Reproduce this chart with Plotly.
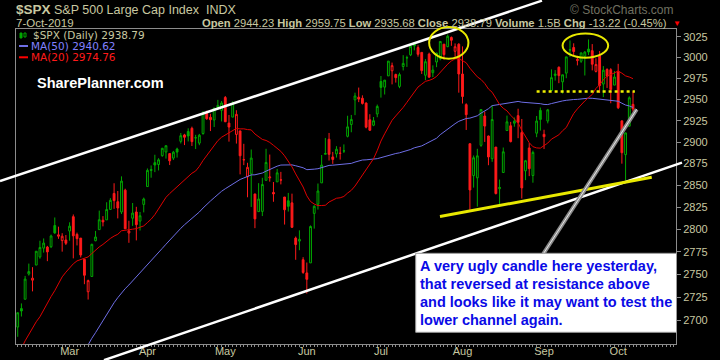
import math
import pandas as pd
import plotly.graph_objects as go

# ---------------- data ----------------
holidays = ["2019-02-18", "2019-04-19", "2019-05-27", "2019-07-04", "2019-09-02"]
dates = [d.strftime("%Y-%m-%d") for d in pd.bdate_range("2019-02-08", "2019-10-07")
         if d.strftime("%Y-%m-%d") not in holidays]

opens = [2692.36, 2712.40, 2722.61, 2750.30, 2743.50, 2760.24, 2769.28, 2779.05, 2780.24, 2780.67, 2804.35, 2792.36, 2787.50, 2788.11,
         2798.22, 2814.37, 2794.41, 2790.27, 2766.53, 2730.79, 2747.61, 2787.34, 2799.78, 2810.38, 2810.79, 2822.61, 2840.76, 2831.34, 2819.72, 2844.52, 2796.01, 2812.66, 2819.72, 2809.40, 2828.27,
         2848.63, 2868.24, 2876.09, 2873.99, 2884.16, 2888.46, 2886.58, 2881.37, 2891.92, 2900.86, 2908.32, 2912.26, 2916.04, 2904.81, 2898.78, 2909.99, 2934.00, 2928.99, 2925.81, 2940.58, 2937.14,
         2952.33, 2922.16, 2929.21, 2908.89, 2913.03, 2879.61, 2859.84, 2863.10, 2840.19, 2820.12, 2820.38, 2855.80, 2858.60, 2841.94, 2854.02, 2856.06, 2836.70, 2832.41, 2830.03, 2790.25, 2786.94, 2766.15,
         2751.53, 2762.64, 2818.09, 2828.51, 2852.87, 2885.83, 2903.27, 2882.73, 2886.24, 2886.82, 2889.75, 2906.71, 2920.55, 2949.60, 2952.71, 2951.42, 2945.78, 2926.07, 2919.66, 2932.94,
         2971.41, 2964.66, 2978.08, 2984.25, 2979.77, 2965.52, 2989.30, 2999.62, 3003.36, 3017.80, 3012.13, 3006.33, 2978.87, 3004.26, 2981.93, 2994.74, 2998.77, 3016.26, 3013.25, 3024.47, 3007.66, 3016.22,
         2980.32, 2943.90, 2898.07, 2861.18, 2858.65, 2896.21, 2930.51, 2907.07, 2880.72, 2894.15, 2846.20, 2864.74, 2913.48, 2919.01, 2922.04, 2930.94, 2911.07, 2866.70, 2893.14, 2861.28, 2910.37, 2937.09,
         2909.01, 2924.67, 2960.60, 2980.33, 2988.43, 2971.01, 2981.41, 3009.08, 3012.21, 2996.41, 2995.67, 3001.50, 3010.36, 3008.42, 2983.50, 3002.43, 2968.35, 2985.73, 2985.47, 2967.07,
         2983.69, 2924.78, 2885.38, 2918.56, 2944.23]
highs = [2708.07, 2718.05, 2748.19, 2761.85, 2757.90, 2775.66, 2787.33, 2789.88, 2781.58, 2794.20, 2813.49, 2803.12, 2795.76, 2793.73,
         2808.02, 2816.88, 2796.44, 2790.27, 2767.25, 2744.13, 2784.00, 2798.32, 2821.24, 2815.00, 2830.73, 2835.41, 2852.42, 2843.54, 2860.31, 2846.16, 2809.79, 2829.87, 2825.56, 2819.71, 2836.03,
         2869.40, 2872.90, 2885.25, 2881.28, 2893.24, 2895.95, 2886.88, 2889.71, 2893.42, 2910.54, 2909.60, 2916.06, 2918.00, 2908.40, 2909.51, 2936.31, 2936.83, 2933.10, 2939.88, 2949.52, 2948.22,
         2954.13, 2931.68, 2947.85, 2937.32, 2913.03, 2897.96, 2875.97, 2891.31, 2840.19, 2852.54, 2858.68, 2892.15, 2885.48, 2853.86, 2868.88, 2865.47, 2836.70, 2841.36, 2840.51, 2792.03, 2799.00, 2768.98,
         2763.07, 2804.49, 2827.28, 2852.10, 2884.97, 2904.77, 2910.61, 2888.57, 2895.24, 2894.45, 2897.27, 2930.79, 2931.74, 2958.06, 2964.15, 2954.92, 2946.52, 2932.59, 2929.30, 2943.98,
         2977.93, 2973.21, 2995.84, 2994.03, 2980.76, 2981.90, 3002.98, 3002.33, 3013.92, 3017.80, 3015.02, 3006.33, 2998.28, 3006.02, 2990.71, 3005.90, 3019.59, 3016.31, 3027.98, 3025.61, 3017.19, 3017.40,
         3013.59, 2945.50, 2898.07, 2884.40, 2892.17, 2938.72, 2935.75, 2907.58, 2943.31, 2894.15, 2856.67, 2893.63, 2931.00, 2923.63, 2928.73, 2939.08, 2927.01, 2879.27, 2898.79, 2890.03, 2930.50, 2940.43,
         2914.39, 2938.84, 2985.86, 2985.03, 2989.43, 2979.39, 3000.93, 3020.74, 3017.33, 3002.19, 3006.21, 3007.83, 3021.99, 3016.37, 2999.15, 3007.98, 2989.82, 2987.28, 2987.31, 2983.85,
         2992.53, 2924.78, 2911.13, 2953.74, 2959.75]
lows = [2681.83, 2703.79, 2722.61, 2748.63, 2731.23, 2760.24, 2767.29, 2774.06, 2764.55, 2779.11, 2794.99, 2789.47, 2775.13, 2782.51,
        2787.38, 2767.66, 2782.05, 2768.69, 2739.09, 2722.27, 2747.61, 2786.73, 2799.78, 2803.46, 2810.79, 2821.99, 2823.27, 2812.43, 2817.38, 2800.47, 2785.02, 2803.99, 2787.72, 2798.77, 2819.23,
        2848.63, 2858.75, 2865.17, 2867.14, 2882.99, 2880.78, 2873.33, 2879.13, 2881.99, 2898.37, 2896.48, 2900.71, 2895.45, 2891.90, 2896.35, 2908.53, 2926.05, 2912.84, 2917.56, 2939.35, 2924.11,
        2923.36, 2900.50, 2929.21, 2898.21, 2862.60, 2873.28, 2836.40, 2825.39, 2801.43, 2820.12, 2815.08, 2855.80, 2854.23, 2831.29, 2854.02, 2851.11, 2805.49, 2820.19, 2801.58, 2766.06, 2776.74, 2750.52,
        2728.81, 2762.64, 2800.92, 2822.45, 2852.87, 2885.51, 2878.53, 2874.68, 2881.99, 2879.62, 2887.30, 2905.44, 2911.43, 2931.50, 2946.87, 2944.05, 2916.01, 2912.99, 2918.57, 2929.05,
        2952.22, 2955.92, 2977.96, 2967.97, 2970.09, 2963.44, 2984.62, 2988.80, 3001.87, 3008.77, 3001.15, 2980.43, 2973.09, 2975.86, 2976.65, 2988.56, 2996.82, 2997.24, 3012.59, 3014.30, 3000.94, 2958.08,
        2945.23, 2914.11, 2822.12, 2847.42, 2825.71, 2894.47, 2900.15, 2873.14, 2877.05, 2839.64, 2825.51, 2864.74, 2913.48, 2899.60, 2917.91, 2904.51, 2834.97, 2856.00, 2860.59, 2853.05, 2905.67, 2913.32,
        2891.85, 2921.86, 2960.60, 2972.51, 2969.39, 2957.01, 2975.31, 3000.92, 3002.90, 2990.67, 2993.73, 2978.57, 3003.16, 2984.68, 2982.23, 2957.73, 2952.86, 2963.71, 2945.53, 2967.07,
        2938.70, 2874.93, 2855.94, 2918.56, 2935.68]
closes = [2707.88, 2709.80, 2744.73, 2753.03, 2745.73, 2775.60, 2779.76, 2784.70, 2774.88, 2792.67, 2796.11, 2793.90, 2792.38, 2784.49,
          2803.69, 2792.81, 2789.65, 2771.45, 2748.93, 2743.07, 2783.30, 2791.52, 2810.92, 2808.48, 2822.48, 2832.94, 2832.57, 2824.23, 2854.88, 2800.71, 2798.36, 2818.46, 2805.37, 2815.44, 2834.40,
          2867.19, 2867.24, 2873.40, 2879.39, 2892.74, 2895.77, 2878.20, 2888.21, 2888.32, 2907.41, 2905.58, 2907.06, 2900.45, 2905.03, 2907.97, 2933.68, 2927.25, 2926.17, 2939.88, 2943.03, 2945.83,
          2923.73, 2917.52, 2945.64, 2932.47, 2884.05, 2879.42, 2870.72, 2881.40, 2811.87, 2834.41, 2850.96, 2876.32, 2859.53, 2840.23, 2864.36, 2856.27, 2822.24, 2826.06, 2802.39, 2783.02, 2788.86, 2752.06,
          2744.45, 2803.27, 2826.15, 2843.49, 2873.34, 2886.73, 2885.72, 2879.84, 2891.64, 2886.98, 2889.67, 2917.75, 2926.46, 2954.18, 2950.46, 2945.35, 2917.38, 2913.78, 2924.92, 2941.76,
          2964.33, 2973.01, 2995.82, 2990.41, 2975.95, 2979.63, 2993.07, 2999.91, 3013.77, 3014.30, 3004.04, 2984.42, 2995.11, 2976.61, 2985.03, 3005.47, 3019.56, 3003.67, 3025.86, 3020.97, 3013.18, 2980.38,
          2953.56, 2932.05, 2844.74, 2881.77, 2883.98, 2938.09, 2918.65, 2882.70, 2926.32, 2840.60, 2847.60, 2888.68, 2923.65, 2900.51, 2924.43, 2922.95, 2847.11, 2878.38, 2869.16, 2887.94, 2924.58, 2926.46,
          2906.27, 2937.78, 2976.00, 2978.71, 2978.43, 2979.39, 3000.93, 3009.57, 3007.39, 2997.96, 3005.70, 3006.73, 3006.79, 2992.07, 2991.78, 2966.60, 2984.87, 2977.62, 2961.79, 2976.74,
          2940.25, 2887.61, 2910.63, 2952.01, 2938.79]
# closes before the first visible day (27-Nov-2018 .. 7-Feb-2019), used for the moving averages
prior_closes = [2682.17, 2743.79, 2737.80, 2760.17,
                2790.37, 2700.06, 2695.95, 2633.08, 2637.72, 2636.78, 2651.07, 2650.54, 2599.95, 2545.94, 2546.16, 2506.96, 2467.42, 2416.62, 2351.10, 2467.70, 2488.83, 2485.74, 2506.85,
                2510.03, 2447.89, 2531.94, 2549.69, 2574.41, 2584.96, 2596.64, 2596.26, 2582.61, 2610.30, 2616.10, 2635.96, 2670.71, 2632.90, 2638.70, 2642.33, 2664.76, 2643.85, 2640.00, 2681.05, 2704.10,
                2706.53, 2724.87, 2737.70, 2731.61, 2706.05]

month_ticks = ["2019-03-01", "2019-04-01", "2019-05-01", "2019-06-03", "2019-07-01", "2019-08-01", "2019-09-03", "2019-10-01"]
month_labels = ["Mar", "Apr", "May", "Jun", "Jul", "Aug", "Sep", "Oct"]
y_ticks = [2700, 2725, 2750, 2775, 2800, 2825, 2850, 2875, 2900, 2925, 2950, 2975, 3000, 3025]

header_vals = {"Open": "2944.23", "High": "2959.75", "Low": "2935.68", "Close": "2938.79",
               "Volume": "1.5B", "Chg": "-13.22 (-0.45%)"}

# ---------------- derived ----------------
n = len(dates)
idx = list(range(n))
allc = pd.Series(prior_closes + closes)
ma50 = allc.rolling(50).mean().iloc[len(prior_closes):].tolist()
ma20 = allc.rolling(20).mean().iloc[len(prior_closes):].tolist()
prev = [prior_closes[-1]] + closes[:-1]
up = [c >= p for c, p in zip(closes, prev)]

GREEN = "#00a800"
RED = "#ff1a1a"
BEIGE = "#c8c8a0"
GRID = "#8c8c8c"

XR = [-0.46, 177.6]
YR = [math.log10(2674.1), math.log10(3034.7)]


def dx(i):
    return (i - XR[0]) / (XR[1] - XR[0])


def dy(p):
    return (math.log10(p) - YR[0]) / (YR[1] - YR[0])


# page pixel -> paper (plot area 16..676 x 29..344)
def px(x):
    return (x - 16) / 660


def py(y):
    return (344 - y) / 315


fig = go.Figure()


def candles(mask, color):
    sel = [i for i in idx if mask[i]]
    fig.add_trace(go.Candlestick(
        x=[idx[i] for i in sel], open=[opens[i] for i in sel], high=[highs[i] for i in sel],
        low=[lows[i] for i in sel], close=[closes[i] for i in sel],
        increasing=dict(line=dict(color=color, width=1), fillcolor="black"),
        decreasing=dict(line=dict(color=color, width=1), fillcolor=color),
        whiskerwidth=0, hoverinfo="skip", showlegend=False))


candles(up, GREEN)
candles([not u for u in up], RED)

fig.add_trace(go.Scatter(x=idx, y=ma50, mode="lines", line=dict(color="#6e6ee6", width=1),
                         hoverinfo="skip", showlegend=False))
fig.add_trace(go.Scatter(x=idx, y=ma20, mode="lines", line=dict(color="#e00000", width=1),
                         hoverinfo="skip", showlegend=False))

pos = {d: i for i, d in enumerate(dates)}

shapes = []
# channel lines (white)
for (i0, p0, i1, p1) in [(-4.78, 2854.8, 141.45, 3069.4), (23.28, 2656.8, 179.22, 2876.2)]:
    shapes.append(dict(type="line", xref="paper", yref="paper", x0=dx(i0), y0=dy(p0), x1=dx(i1), y1=dy(p1),
                       line=dict(color="white", width=2.5), layer="above"))
# yellow support
shapes.append(dict(type="line", xref="paper", yref="paper", x0=dx(113.93), y0=dy(2814.5), x1=dx(171.05), y1=dy(2859.3),
                   line=dict(color="#e8e800", width=3), layer="above"))
# yellow dotted resistance
shapes.append(dict(type="line", xref="paper", yref="paper", x0=dx(140.0), y0=dy(2959.5), x1=dx(166.5), y1=dy(2959.5),
                   line=dict(color="#f0f000", width=2.5, dash="dot"), layer="above"))
# ellipses
for (i0, p0, i1, p1) in [(111.0, 2998.8, 121.6, 3037.1), (147.0, 3000.0, 159.3, 3029.1)]:
    shapes.append(dict(type="circle", xref="paper", yref="paper", x0=dx(i0), y0=dy(p0), x1=dx(i1), y1=dy(p1),
                       line=dict(color="#e8e800", width=2), layer="above"))
# gray pointer
shapes.append(dict(type="line", xref="paper", yref="paper", x0=dx(141.8), y0=dy(2772.7), x1=dx(167.0), y1=dy(2938.4),
                   line=dict(color="#8a8a8a", width=4), layer="above"))
shapes.append(dict(type="line", xref="paper", yref="paper", x0=dx(141.8), y0=dy(2772.7), x1=dx(167.0), y1=dy(2938.4),
                   line=dict(color="#e8e8e8", width=1), layer="above"))
# text box
shapes.append(dict(type="rect", xref="paper", yref="paper", x0=px(415.7), y0=py(332.3), x1=px(676.5), y1=py(253.3),
                   fillcolor="white", line=dict(color="#9a9a9a", width=1), layer="above"))
# legend icons
shapes.append(dict(type="line", xref="paper", yref="paper", x0=px(19), y0=py(46), x1=px(28), y1=py(46),
                   line=dict(color="#6e6ee6", width=2)))
shapes.append(dict(type="line", xref="paper", yref="paper", x0=px(19), y0=py(57.3), x1=px(28), y1=py(57.3),
                   line=dict(color="#ff0000", width=2)))
shapes.append(dict(type="rect", xref="paper", yref="paper", x0=px(20), y0=py(38), x1=px(22), y1=py(33),
                   line=dict(color=GREEN, width=1), fillcolor=GREEN))
shapes.append(dict(type="rect", xref="paper", yref="paper", x0=px(24), y0=py(37), x1=px(26), y1=py(33),
                   line=dict(color=GREEN, width=1), fillcolor="black"))

ann = []
HF = "Liberation Sans"


def text(x, y, s, size, color, anchor="left", family=HF, yanchor="middle"):
    ann.append(dict(xref="paper", yref="paper", x=px(x), y=py(y), text=s, showarrow=False,
                    xanchor=anchor, yanchor=yanchor, font=dict(family=family, size=size, color=color)))


text(14, 10, "<b>$SPX</b>", 13.5, BEIGE)
text(52, 9.5, "S&amp;P 500 Large Cap Index  INDX", 12.5, BEIGE)
text(14, 23, "7-Oct-2019", 11.5, BEIGE)
hdr = " ".join(f"<b>{k}</b> {v}" for k, v in header_vals.items())
text(669, 23, hdr, 11.2, BEIGE, anchor="right")
text(671, 23, "▼", 8, "#ff0000", anchor="left")
text(676, 9.5, "© StockCharts.com", 12, "#707060", anchor="right")

LF = "DejaVu Sans"
text(31, 35, f"$SPX (Daily) {closes[-1]:.2f}", 10.5, BEIGE, family=LF)
text(29, 46, f"MA(50) {ma50[-1]:.2f}", 10.5, "#8080ff", family=LF)
text(29, 57.3, f"MA(20) {ma20[-1]:.2f}", 10.5, "#ff1a1a", family=LF)
text(35, 83, "<b>SharePlanner.com</b>", 14.5, "white")

box_lines = ["A very ugly candle here yesterday,", "that reversed at resistance above",
             "and looks like it may want to test the", "lower channel again."]
for k, s in enumerate(box_lines):
    text(418, 266 + k * 18, f"<b>{s}</b>", 14.5, "#0a0ae6")

fig.update_layout(
    width=720, height=360, margin=dict(l=16, r=44, t=29, b=16),
    paper_bgcolor="black", plot_bgcolor="black", showlegend=False,
    shapes=shapes, annotations=ann,
    xaxis=dict(range=XR, tickmode="array", tickvals=[pos[d] for d in month_ticks], ticktext=month_labels,
               showgrid=False, zeroline=False, showline=True, mirror=True, linecolor=GRID, linewidth=1,
               ticks="outside", ticklen=2, tickcolor=GRID, tickfont=dict(family=HF, size=11, color=BEIGE),
               ticklabelstandoff=-5,
               rangeslider=dict(visible=False), automargin=False,
               minor=dict(ticks="outside", ticklen=2, tickcolor=GRID, dtick=1, tick0=0)),
    yaxis=dict(type="log", range=YR, side="right", tickmode="array", tickvals=y_ticks,
               ticktext=[str(v) for v in y_ticks], showgrid=False, zeroline=False, showline=True, mirror=True,
               linecolor=GRID, linewidth=1, ticks="outside", ticklen=4, tickcolor=GRID,
               tickfont=dict(family=HF, size=11, color=BEIGE), automargin=False),
)

fig.write_html("out.html")
